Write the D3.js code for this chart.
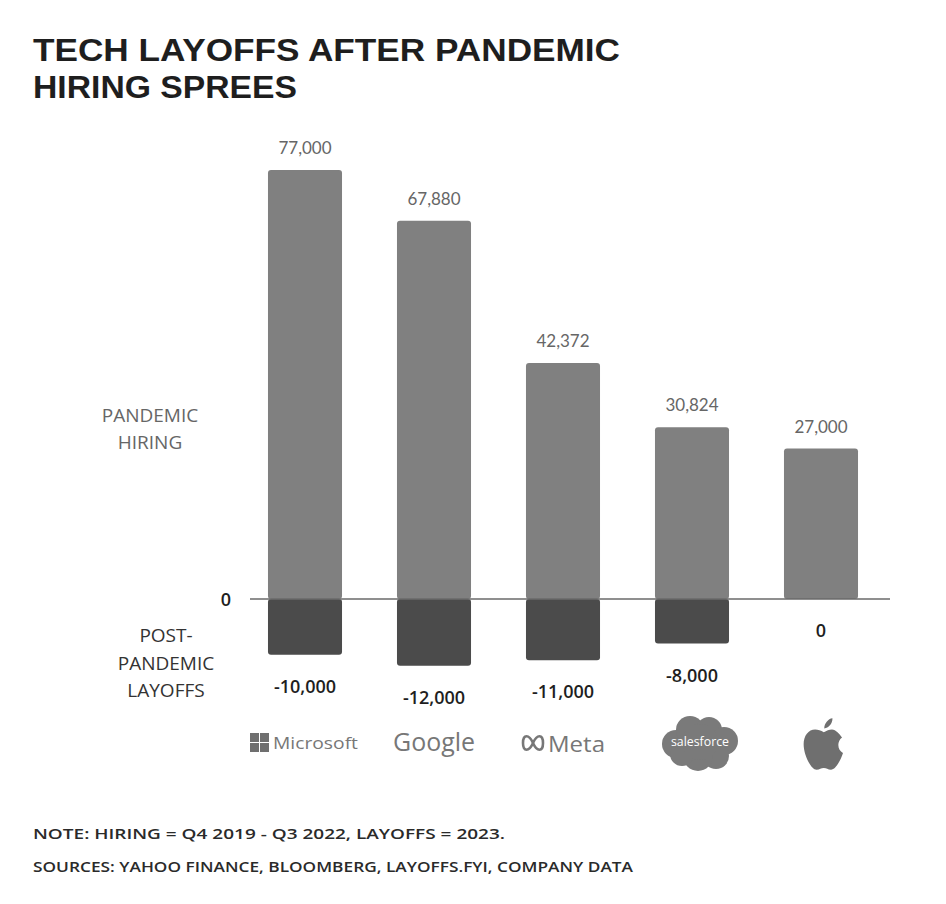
<!DOCTYPE html>
<html><head><meta charset="utf-8">
<script src="https://cdn.jsdelivr.net/npm/d3@7"></script>
<style>body{margin:0;background:#fff}svg{display:block}</style>
</head><body>
<svg id="c" width="946" height="904"></svg>
<script>
const companies = ["Microsoft","Google","Meta","Salesforce","Apple"];
const hiring = [77000, 67880, 42372, 30824, 27000];
const layoffs = [-10000, -12000, -11000, -8000, 0];
const titleLines = ["TECH LAYOFFS AFTER PANDEMIC","HIRING SPREES"];
const noteLines = ["NOTE: HIRING = Q4 2019 - Q3 2022, LAYOFFS = 2023.","SOURCES: YAHOO FINANCE, BLOOMBERG, LAYOFFS.FYI, COMPANY DATA"];

const svg = d3.select("#c");
const hand = "'Open Sans', 'DejaVu Sans', sans-serif";
const geo = "Lato, 'DejaVu Sans', sans-serif";

const x = d3.scaleBand().domain(companies).range([240.5, 885.5]).paddingInner(0.426).paddingOuter(0.213);
const y = d3.scaleLinear().domain([0, 77000]).range([599, 170]);
const fmt = v => d3.format(",")(v).replace("\u2212","-");

// title
const tW = [587, 264];
titleLines.forEach((t,i)=>{
  svg.append("text").attr("x",33).attr("y",61+i*37).text(t)
    .attr("font-family","'Liberation Sans', Arial, sans-serif").attr("font-weight",700).attr("font-size",32)
    .attr("fill","#1e1e1e").attr("textLength",tW[i]).attr("lengthAdjust","spacingAndGlyphs");
});

// bars positive
svg.selectAll("rect.pos").data(companies).join("rect").attr("class","pos")
  .attr("x",d=>x(d)).attr("width",x.bandwidth())
  .attr("y",(d,i)=>y(hiring[i])).attr("height",(d,i)=>y(0)-y(hiring[i]))
  .attr("rx",3).attr("fill","#808080");
// bars negative
svg.selectAll("rect.neg").data(companies).join("rect").attr("class","neg")
  .attr("x",d=>x(d)).attr("width",x.bandwidth())
  .attr("y",y(0)).attr("height",(d,i)=>y(layoffs[i])-y(0))
  .attr("rx",3).attr("fill","#4b4b4b");

// zero line
svg.append("line").attr("x1",250).attr("x2",890).attr("y1",y(0)).attr("y2",y(0))
  .attr("stroke","#6a6a6a").attr("stroke-width",1.5);

// value labels
svg.selectAll("text.hv").data(companies).join("text").attr("class","hv")
  .attr("x",d=>x(d)+x.bandwidth()/2).attr("y",(d,i)=>y(hiring[i])-16)
  .attr("text-anchor","middle").attr("font-family",geo).attr("font-size",17)
  .attr("fill","#666").text((d,i)=>fmt(hiring[i]));
svg.selectAll("text.lv").data(companies).join("text").attr("class","lv")
  .attr("x",d=>x(d)+x.bandwidth()/2).attr("y",(d,i)=>y(layoffs[i])+38)
  .attr("text-anchor","middle").attr("font-family",hand).attr("font-weight",600).attr("font-size",18)
  .attr("fill","#1e1e1e").text((d,i)=>fmt(layoffs[i]));

// side labels
svg.append("text").attr("x",226).attr("y",y(0)+7).attr("text-anchor","middle")
  .attr("font-family",hand).attr("font-weight",600).attr("font-size",18).attr("fill","#1e1e1e").text("0");
[["PANDEMIC",422],["HIRING",449]].forEach(([t,yy])=>{
  svg.append("text").attr("x",150).attr("y",yy).attr("text-anchor","middle")
    .attr("font-family",hand).attr("font-size",19).attr("fill","#666").text(t);
});
[["POST-",642],["PANDEMIC",670],["LAYOFFS",697]].forEach(([t,yy])=>{
  svg.append("text").attr("x",166).attr("y",yy).attr("text-anchor","middle")
    .attr("font-family",hand).attr("font-size",19).attr("fill","#333").text(t);
});

// logos
const lg = "#777";
const cx = d => x(d)+x.bandwidth()/2;
// Microsoft
{
  const g = svg.append("g").attr("transform",`translate(${cx("Microsoft")-55},733)`);
  [[0,0],[10,0],[0,10],[10,10]].forEach(([a,b])=>g.append("rect").attr("x",a).attr("y",b).attr("width",9).attr("height",9).attr("fill","#6f6f6f"));
  g.append("text").attr("x",23).attr("y",16).attr("font-family","'Open Sans',sans-serif").attr("font-size",17)
    .attr("fill",lg).attr("textLength",85).attr("lengthAdjust","spacingAndGlyphs").text("Microsoft");
}
// Google
svg.append("text").attr("x",cx("Google")).attr("y",751).attr("text-anchor","middle")
  .attr("font-family","'Open Sans',sans-serif").attr("font-size",26).attr("fill",lg)
  .attr("textLength",82).attr("lengthAdjust","spacingAndGlyphs").text("Google");
// Meta
{
  const g = svg.append("g").attr("transform",`translate(${cx("Meta")-42},743)`);
  g.append("path").attr("d","M2,0 C2,-9 8,-9 12,0 C16,9 22,9 22,0 C22,-9 16,-9 12,0 C8,9 2,9 2,0 Z")
    .attr("fill","none").attr("stroke",lg).attr("stroke-width",2.6);
  g.append("text").attr("x",27).attr("y",9).attr("font-family","'Open Sans',sans-serif").attr("font-size",22)
    .attr("fill",lg).attr("textLength",57).attr("lengthAdjust","spacingAndGlyphs").text("Meta");
}
// Salesforce cloud
{
  const c0 = cx("Salesforce")+8;
  const g = svg.append("g").attr("transform",`translate(${c0},742)`);
  [[-24,2,14],[-10,-12,14],[9,-12,13],[24,-1,14],[16,14,13],[-2,14,15],[-18,12,12],[0,0,18]]
    .forEach(([a,b,r])=>g.append("circle").attr("cx",a).attr("cy",b).attr("r",r).attr("fill","#7a7a7a"));
  g.append("text").attr("x",0).attr("y",4).attr("text-anchor","middle").attr("font-family","'Open Sans',sans-serif")
    .attr("font-size",12).attr("fill","#fff").attr("textLength",58).attr("lengthAdjust","spacingAndGlyphs").text("salesforce");
}
// Apple
svg.append("path").attr("transform",`translate(${cx("Apple")-26},715) scale(2.4)`)
  .attr("d","M12 7.2 C10.8 6.4 9.6 6 8.4 6 C5.6 6 3.6 8.6 3.6 12.2 C3.6 16.6 6.6 22.8 9 22.8 C10.3 22.8 10.8 22.1 12 22.1 C13.2 22.1 13.6 22.8 15 22.8 C17 22.8 19.2 18.4 20 15.8 C17.8 14.8 17.2 11.2 19.6 9.4 C18.6 7.8 17 6.1 15.4 6 C14.2 6 13.2 6.5 12 7.2 Z M12.2 5.6 C12.2 3.6 13.8 1.6 15.6 1.4 C15.7 3.6 14 5.4 12.2 5.6 Z")
  .attr("fill","#6f6f6f");

// notes
const nW = [472, 600];
noteLines.forEach((t,i)=>{
  svg.append("text").attr("x",33).attr("y",839+i*33).text(t)
    .attr("font-family",hand).attr("font-weight",600).attr("font-size",15)
    .attr("fill","#2a2a2a").attr("textLength",nW[i]).attr("lengthAdjust","spacingAndGlyphs");
});
</script>
</body></html>
